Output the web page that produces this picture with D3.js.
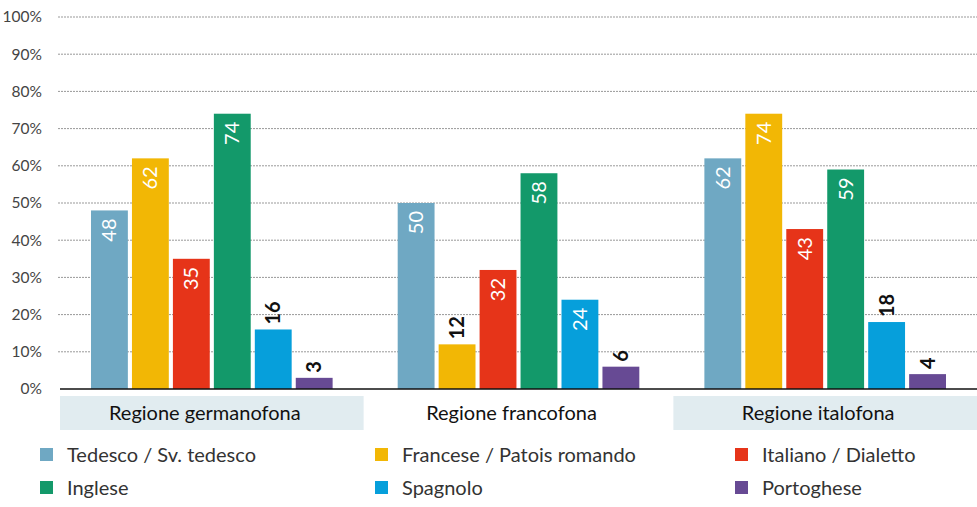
<!DOCTYPE html>
<html>
<head>
<meta charset="utf-8">
<script src="https://cdn.jsdelivr.net/npm/d3@7"></script>
<style>
  body { margin: 0; background: #fff; }
  text { font-family: Lato, "Open Sans", sans-serif; }
</style>
</head>
<body>
<div id="chart"></div>
<script>
// data
var regions = ["Regione germanofona", "Regione francofona", "Regione italofona"];
var languages = ["Tedesco / Sv. tedesco", "Francese / Patois romando", "Italiano / Dialetto",
                 "Inglese", "Spagnolo", "Portoghese"];
var colors = ["#6fa8c3", "#f2b705", "#e63419", "#13996a", "#069fdb", "#674a94"];
var tedesco    = [48, 50, 62];
var francese   = [62, 12, 74];
var italiano   = [35, 32, 43];
var inglese    = [74, 58, 59];
var spagnolo   = [16, 24, 18];
var portoghese = [3, 6, 4];
var yTicks = [0, 10, 20, 30, 40, 50, 60, 70, 80, 90, 100];

var series = [tedesco, francese, italiano, inglese, spagnolo, portoghese];

// setup
var svgWidth = 977, svgHeight = 507;
var margin = { top: 17, right: 0, bottom: 118, left: 60 };
var width = svgWidth - margin.left - margin.right;
var height = svgHeight - margin.top - margin.bottom;

var svg = d3.select("#chart").append("svg")
  .attr("width", svgWidth)
  .attr("height", svgHeight);

var chartGroup = svg.append("g")
  .attr("transform", `translate(${margin.left}, ${margin.top})`);

// scales
var x0 = d3.scaleBand().domain(regions).range([0, width]).paddingInner(0.01);
var x1 = d3.scaleBand().domain(languages).range([31, x0.bandwidth() - 31]).paddingInner(0.1);
var y = d3.scaleLinear().domain([0, 100]).range([height, 0]);

// grid lines
chartGroup.append("g")
  .selectAll("line")
  .data(yTicks.slice(1))
  .enter().append("line")
  .attr("x1", -2).attr("x2", width)
  .attr("y1", d => y(d)).attr("y2", d => y(d))
  .attr("stroke", "#999")
  .attr("stroke-width", 1)
  .attr("stroke-dasharray", "2,1");

// y labels
var leftAxis = d3.axisLeft(y).tickValues(yTicks).tickFormat(d => d + "%").tickSize(0).tickPadding(18);
var yAxis = chartGroup.append("g").call(leftAxis);
yAxis.select(".domain").remove();
yAxis.selectAll("text")
  .attr("fill", "#444")
  .style("font-size", "15.5px")
  .style("font-family", "Lato, sans-serif");

// category boxes
var cat = chartGroup.selectAll(".cat")
  .data(regions)
  .enter().append("g")
  .attr("transform", d => `translate(${x0(d)}, ${height + 7})`);

cat.append("rect")
  .attr("width", x0.bandwidth())
  .attr("height", 34)
  .attr("fill", (d, i) => i === 1 ? "#fff" : "#e1ecf0");

cat.append("text")
  .attr("x", x0.bandwidth() / 2 - 7)
  .attr("y", 24)
  .attr("text-anchor", "middle")
  .attr("fill", "#111")
  .style("font-size", "20px")
  .text(d => d);

// bars
var rows = [];
regions.forEach(function(r, ri) {
  languages.forEach(function(l, li) {
    rows.push({ region: r, lang: l, value: series[li][ri], color: colors[li] });
  });
});

chartGroup.selectAll(".bar")
  .data(rows)
  .enter().append("rect")
  .attr("x", d => x0(d.region) + x1(d.lang))
  .attr("y", d => y(d.value))
  .attr("width", x1.bandwidth())
  .attr("height", d => height - y(d.value))
  .attr("fill", d => d.color);

// value labels (rotated)
chartGroup.selectAll(".lbl")
  .data(rows)
  .enter().append("text")
  .attr("transform", function(d) {
    var cx = x0(d.region) + x1(d.lang) + x1.bandwidth() / 2 + 7;
    var inside = d.value >= 20;
    var ty = inside ? y(d.value) + 8 : y(d.value) - 5;
    return `translate(${cx}, ${ty}) rotate(-90)`;
  })
  .attr("text-anchor", d => d.value >= 20 ? "end" : "start")
  .attr("fill", d => d.value >= 20 ? "#fff" : "#111")
  .style("font-weight", d => d.value >= 20 ? "normal" : "bold")
  .style("font-size", "20px")
  .text(d => d.value);

// baseline
chartGroup.append("line")
  .attr("x1", 0).attr("x2", width)
  .attr("y1", height).attr("y2", height)
  .attr("stroke", "#111")
  .attr("stroke-width", 1.5);

// legend
var legendX = [40, 375, 735];
var legend = svg.selectAll(".legend")
  .data(languages)
  .enter().append("g")
  .attr("transform", (d, i) => `translate(${legendX[i % 3]}, ${455 + Math.floor(i / 3) * 33})`);

legend.append("rect")
  .attr("width", 13).attr("height", 13)
  .attr("y", -7)
  .attr("fill", (d, i) => colors[i]);

legend.append("text")
  .attr("x", 27)
  .attr("y", 7)
  .attr("fill", "#333")
  .style("font-size", "20px")
  .text(d => d);
</script>
</body>
</html>
